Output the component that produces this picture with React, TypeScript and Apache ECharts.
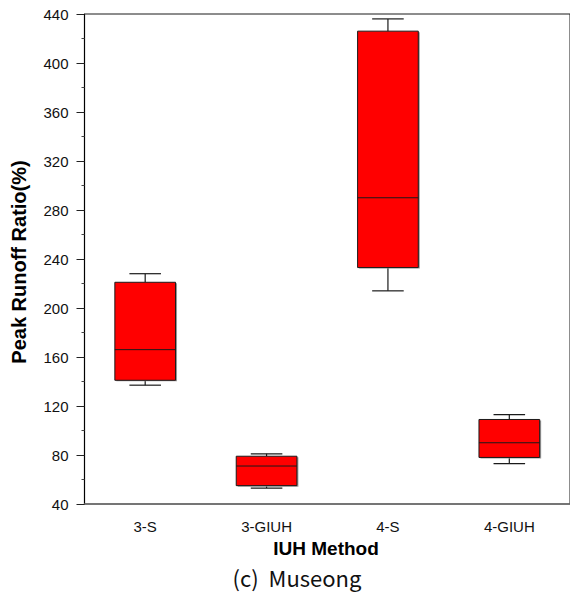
import React, { useEffect, useRef } from "react";
import * as echarts from "echarts";

const categories = ["3-S", "3-GIUH", "4-S", "4-GIUH"];
const whiskerLow = [137, 53, 214, 73];
const quartile1 = [141, 55, 233, 78];
const medians = [166, 71, 290, 90];
const quartile3 = [221, 79, 426, 109];
const whiskerHigh = [228, 81, 436, 113];
const yTicks = { min: 40, max: 440, interval: 40 };

const FONT = '"Liberation Sans", Arial, sans-serif';

export default function App() {
  const ref = useRef<HTMLDivElement>(null);
  useEffect(() => {
    if (!ref.current) return;
    const chart = echarts.init(ref.current, null, { renderer: "svg" });
    const data = categories.map((_, i) => [
      i,
      whiskerLow[i],
      quartile1[i],
      medians[i],
      quartile3[i],
      whiskerHigh[i],
    ]);
    chart.setOption({
      animation: false,
      backgroundColor: "#ffffff",
      grid: {
        left: 84.5,
        right: -3.5,
        top: 14,
        bottom: 90,
        show: true,
        borderColor: "#1a1a1a",
        borderWidth: 1,
        backgroundColor: "transparent",
      },
      xAxis: {
        type: "category",
        data: categories,
        boundaryGap: true,
        axisLine: { lineStyle: { color: "#6e6e6e", width: 1.5 } },
        axisTick: {
          alignWithLabel: true,
          length: 7,
          lineStyle: { color: "#222" },
        },
        axisLabel: {
          margin: 15,
          fontSize: 15,
          color: "#111",
          fontFamily: FONT,
        },
        splitLine: { show: false },
      },
      yAxis: {
        type: "value",
        min: yTicks.min,
        max: yTicks.max,
        interval: yTicks.interval,
        axisLine: { show: true, lineStyle: { color: "#000", width: 1.2 } },
        axisTick: { show: true, length: 8, lineStyle: { color: "#222" } },
        minorTick: { show: true, splitNumber: 2, length: 3, lineStyle: { color: "#444" } },
        axisLabel: {
          margin: 16,
          fontSize: 15,
          color: "#111",
          fontFamily: FONT,
        },
        splitLine: { show: false },
        minorSplitLine: { show: false },
      },
      graphic: [
        {
          type: "text",
          x: 19,
          y: 262,
          rotation: Math.PI / 2,
          style: {
            text: "Peak Runoff Ratio(%)",
            font: `bold 20px ${FONT}`,
            fill: "#000",
            align: "center",
            verticalAlign: "middle",
          },
        },
        {
          type: "text",
          x: 326,
          y: 548,
          style: {
            text: "IUH Method",
            font: `bold 19px ${FONT}`,
            fill: "#000",
            align: "center",
            verticalAlign: "middle",
          },
        },
        {
          type: "text",
          x: 297,
          y: 577,
          style: {
            text: "(c)  Museong",
            font: `22px "Noto Sans CJK KR", "Noto Sans", sans-serif`,
            fill: "#111",
            align: "center",
            verticalAlign: "middle",
          },
        },
      ],
      series: [
        {
          type: "custom",
          data,
          encode: { x: 0, y: [1, 2, 3, 4, 5] },
          renderItem: (params: any, api: any) => {
            const idx = api.value(0);
            const lo = api.coord([idx, api.value(1)]);
            const q1 = api.coord([idx, api.value(2)]);
            const md = api.coord([idx, api.value(3)]);
            const q3 = api.coord([idx, api.value(4)]);
            const hi = api.coord([idx, api.value(5)]);
            const band = api.size([1, 0])[0];
            const bw = band * 0.5;
            const cw = bw * 0.52;
            const cx = lo[0];
            const lineStyle = { stroke: "#1a1a1a", lineWidth: 1.2 };
            return {
              type: "group",
              children: [
                {
                  type: "line",
                  shape: { x1: cx, y1: hi[1], x2: cx, y2: q3[1] },
                  style: lineStyle,
                },
                {
                  type: "line",
                  shape: { x1: cx, y1: q1[1], x2: cx, y2: lo[1] },
                  style: lineStyle,
                },
                {
                  type: "line",
                  shape: { x1: cx - cw / 2, y1: hi[1], x2: cx + cw / 2, y2: hi[1] },
                  style: lineStyle,
                },
                {
                  type: "line",
                  shape: { x1: cx - cw / 2, y1: lo[1], x2: cx + cw / 2, y2: lo[1] },
                  style: lineStyle,
                },
                {
                  type: "rect",
                  shape: { x: cx - bw / 2 + 1.5, y: q3[1] + 1, width: bw, height: q1[1] - q3[1] },
                  style: { fill: "#9a9a9a" },
                },
                {
                  type: "rect",
                  shape: { x: cx - bw / 2, y: q3[1], width: bw, height: q1[1] - q3[1] },
                  style: { fill: "#ff0000", stroke: "#1a1a1a", lineWidth: 1 },
                },
                {
                  type: "line",
                  shape: { x1: cx - bw / 2, y1: md[1], x2: cx + bw / 2, y2: md[1] },
                  style: { stroke: "#1a1a1a", lineWidth: 1 },
                },
              ],
            };
          },
        },
      ],
    });
    return () => chart.dispose();
  }, []);
  return (
    <div
      ref={ref}
      style={{ position: "absolute", left: 0, top: 0, width: 570, height: 594 }}
    />
  );
}
